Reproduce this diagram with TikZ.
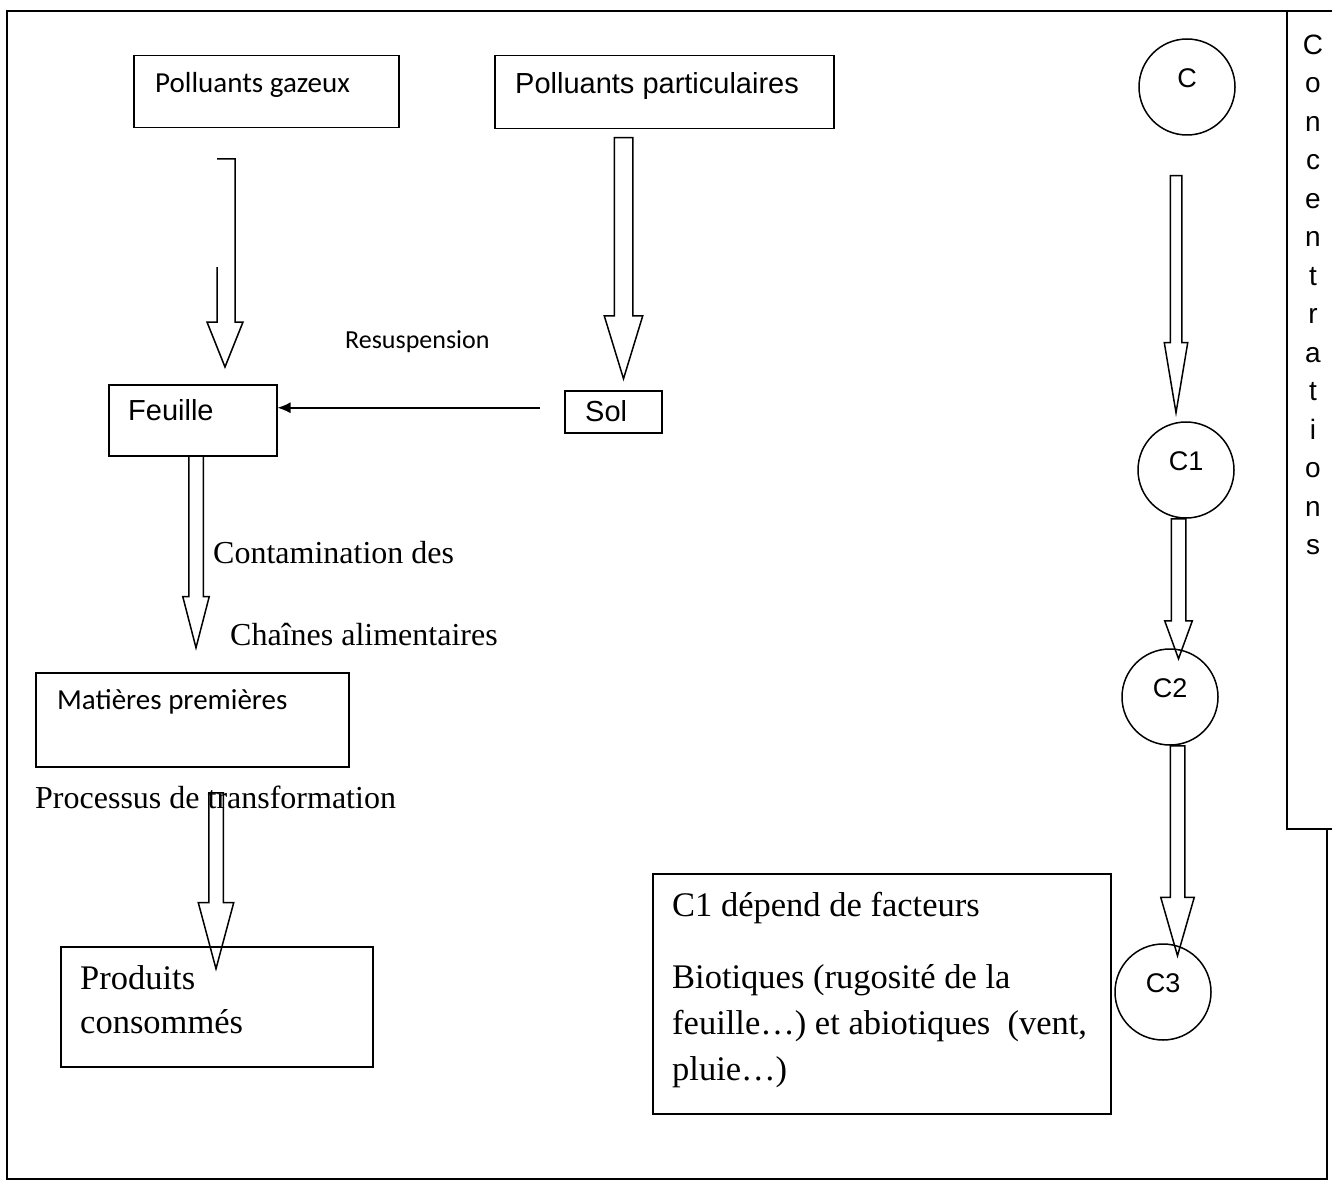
\documentclass[tikz,border=0pt]{standalone}
\usepackage{fontspec}
\setmainfont{Liberation Serif}
\newfontfamily\calibfont{Carlito}
\newfontfamily\arialfont{Liberation Sans}
\usetikzlibrary{shapes.arrows}
\usetikzlibrary{arrows.meta}

\tikzset{
  box/.style={draw, rectangle, line width=1.5pt, anchor=north west, inner sep=0pt},
  txt/.style={anchor=base west, inner sep=0pt},
  calib/.style={txt, font=\calibfont\fontsize{29}{35}\selectfont},
  arial/.style={txt, font=\arialfont\fontsize{29}{35}\selectfont},
  times/.style={txt, font=\fontsize{32}{38}\selectfont},
  note/.style={anchor=north west, inner sep=0pt, align=left, font=\fontsize{34.5}{46}\selectfont},
  conc/.style={draw, circle, line width=1.5pt, minimum size=96pt, inner sep=0pt, text depth=17pt,
    font=\arialfont\fontsize{27}{32}\selectfont},
  hollow/.style={draw, single arrow, shape border rotate=270, line width=1.5pt,
    anchor=tail, minimum width=0pt}
}

\begin{document}
\begin{tikzpicture}[x=1pt,y=-1pt]
  \useasboundingbox (0,0) rectangle (1332,1182);
  % frame and concentrations column
  \draw[line width=2pt] (1327,829) -- (1327,1179) -- (7,1179) -- (7,11) -- (1332,11);
  \draw[line width=1.5pt] (1287,11) -- (1287,829) -- (1332,829);
  \foreach \l [count=\i] in {C,o,n,c,e,n,t,r,a,t,i,o,n,s}
    \node[arial, anchor=base, font=\arialfont\fontsize{28}{32}\selectfont] (let\i) at (1313,{54.5+38.46*(\i-1)}) {\l};

  % boxes
  \node[box, minimum width=265pt, minimum height=72pt] (gaz) at (133,55) {};
  \node[calib] (gaztxt) at (155,93) {Polluants gazeux};
  \node[box, minimum width=339pt, minimum height=73pt] (part) at (494,55) {};
  \node[arial] (parttxt) at (515,94) {Polluants particulaires};
  \node[box, minimum width=168pt, minimum height=71pt] (feuille) at (108,384) {};
  \node[arial] (feuilletxt) at (128,420) {Feuille};
  \node[box, minimum width=97pt, minimum height=42pt] (sol) at (564,390) {};
  \node[arial] (soltxt) at (585,421) {Sol};
  \node[box, minimum width=313pt, minimum height=94pt] (mat) at (35,672) {};
  \node[calib] (mattxt) at (57,709) {Matières premières};
  \node[box, minimum width=312pt, minimum height=120pt] (prod) at (60,946) {};
  \node[note] (prodtxt) at (80,965) {Produits\\[-2pt]consommés};
  \node[box, minimum width=458pt, minimum height=240pt] (fact) at (652,873) {};
  \node[note] (facttxt) at (672,891.5) {C1 dépend de facteurs\\[26pt]Biotiques (rugosité de la\\feuille…) et abiotiques\ \ (vent,\\pluie…)};

  % labels
  \node[calib, font=\calibfont\fontsize{26}{31}\selectfont] (resusp) at (345,348) {Resuspension};
  \node[times] (cont1) at (213,563) {Contamination des};
  \node[times] (cont2) at (230,645) {Chaînes alimentaires};
  \node[times] (proc) at (35,808) {Processus de transformation};

  % concentration circles
  \node[conc] (c) at (1187,87) {C};
  \node[conc] (c1) at (1186,470) {C1};
  \node[conc] (c2) at (1170,697) {C2};
  \node[conc] (c3) at (1163,992) {C3};

  % hollow arrows
  \draw[line width=1.5pt] (217,159) -- (235,159) -- (235,322) -- (243,322) -- (225,367)
    -- (207,322) -- (217,322) -- (217,267);
  \node[hollow, inner sep=8.5pt, single arrow head extend=10pt, single arrow tip angle=34,
    minimum height=241pt] (partarr) at (623.5,137) {};
  \node[hollow, inner sep=6.5pt, single arrow head extend=6pt, single arrow tip angle=29,
    minimum height=192pt] (feuillearr) at (196,455) {};
  \node[hollow, inner sep=6.5pt, single arrow head extend=10.5pt, single arrow tip angle=30,
    minimum height=176pt] (procarr) at (216,792) {};
  \node[hollow, inner sep=5pt, single arrow head extend=6pt, single arrow tip angle=19,
    minimum height=237pt] (carr) at (1176,175) {};
  \node[hollow, inner sep=6.5pt, single arrow head extend=6.5pt, single arrow tip angle=40,
    minimum height=140pt] (c1arr) at (1178.5,518) {};
  \node[hollow, inner sep=6.5pt, single arrow head extend=9.5pt, single arrow tip angle=32,
    minimum height=210pt] (c2arr) at (1177.5,745) {};

  % resuspension
  \draw[line width=1.5pt, -{Latex[length=13pt,width=11pt]}] ([xshift=-24pt,yshift=4pt]sol.west) coordinate (rs) -- (rs -| feuille.east);
\end{tikzpicture}
\end{document}
